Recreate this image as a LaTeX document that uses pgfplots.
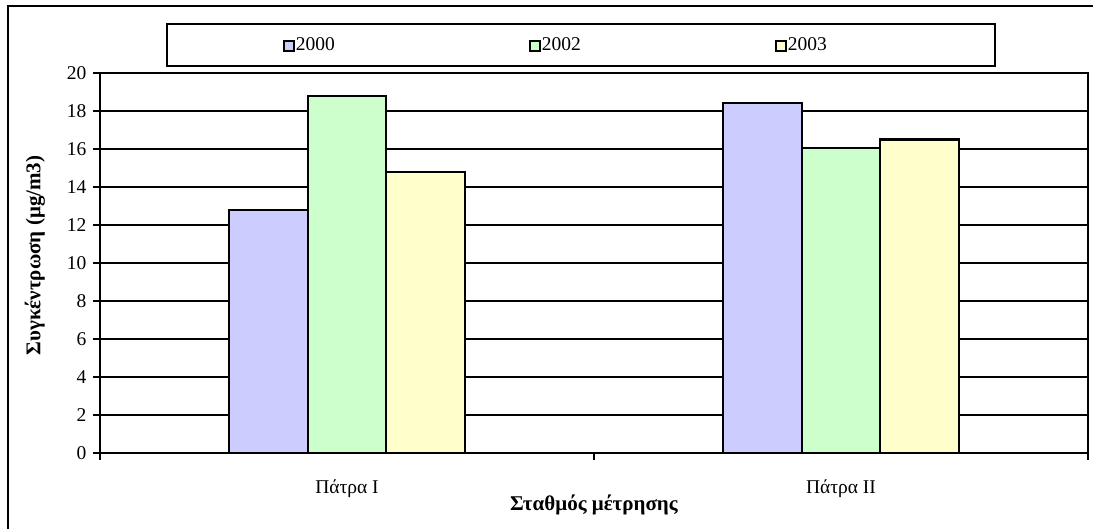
\documentclass[border=0pt]{standalone}
\usepackage{fontspec}
\setmainfont{Liberation Serif}
\usepackage{pgfplots}
\pgfplotsset{compat=1.18}
\definecolor{cA}{HTML}{CCCCFF}
\definecolor{cB}{HTML}{CCFFCC}
\definecolor{cC}{HTML}{FFFFCC}
\begin{document}
\fontsize{19.5}{23}\selectfont
\begin{tikzpicture}[x=1pt,y=1pt]
\path[use as bounding box] (0,0) rectangle (1093,529);
\draw[line width=2.2pt] (8,-10) -- (8,523) -- (1100,523);
\draw[line width=2.2pt] (167,463) rectangle (995,505);
\begin{axis}[
  at={(100pt,76pt)}, anchor=south west,
  width=988pt, height=380pt, scale only axis,
  xmin=-0.5, xmax=1.5, ymin=0, ymax=20,
  ytick={0,2,...,20},
  xtick={-0.5,0.5,1.5}, xticklabels={},
  xtick pos=bottom, ytick pos=left,
  extra x ticks={0,1},
  extra x tick labels={Πάτρα I, Πάτρα II},
  extra x tick style={major tick length=0pt, xticklabel style={yshift=-20pt}},
  tick align=outside, major tick length=7pt,
  tick style={black, line width=2.2pt},
  ymajorgrids, grid style={black, line width=2.2pt},
  axis line style={line width=2.4pt},
  /pgf/number format/assume math mode=true,
  ticklabel style={font=\fontsize{19.5}{23}\selectfont},
  ylabel={\bfseries\fontsize{21}{24}\selectfont Συγκέντρωση (μg/m3)},
  xlabel={\bfseries\fontsize{21}{24}\selectfont Σταθμός μέτρησης},
  ylabel style={at={(axis description cs:-0.066,0.52)}, anchor=center, rotate=0},
  xlabel style={at={(axis description cs:0.5,-0.137)}, anchor=center},
  ybar=0pt, bar width=78.5pt,
  every axis plot/.append style={draw=black, line width=2.2pt},
  legend columns=3,
  legend image code/.code={\draw[#1, line width=2pt] (0pt,-5pt) rectangle (10pt,5pt);},
  legend style={at={(axis description cs:0.185,1.072)}, anchor=west, draw=none, fill=none,
    inner sep=0pt, font=\fontsize{19.5}{23}\selectfont,
    nodes={inner xsep=1pt},
    /tikz/every even column/.append style={column sep=193pt}},
]
\addplot[fill=cA] coordinates {(0,12.8) (1,18.4)};
\addplot[fill=cB] coordinates {(0,18.8) (1,16.05)};
\addplot[fill=cC] coordinates {(0,14.8) (1,16.5)};
\legend{2000,2002,2003}
\end{axis}
\end{tikzpicture}
\end{document}
